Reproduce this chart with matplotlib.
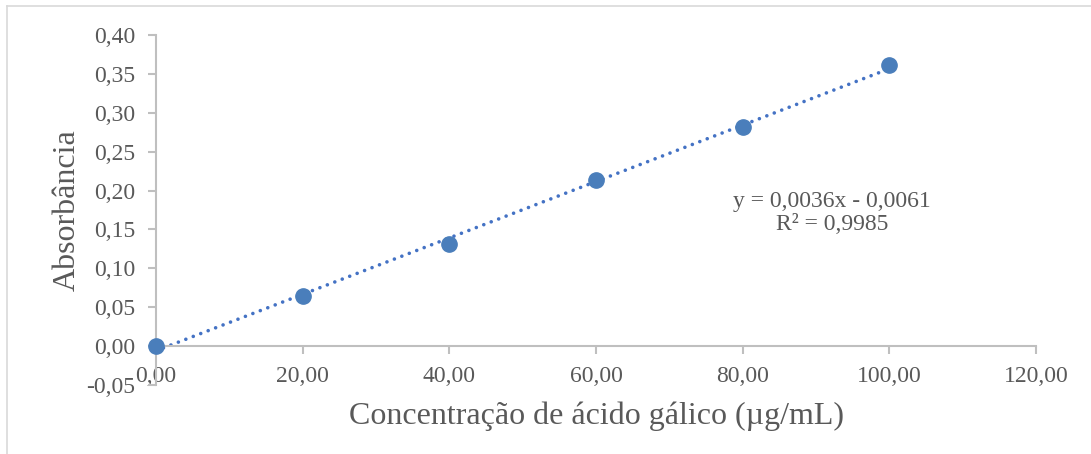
import numpy as np
import matplotlib.pyplot as plt
from matplotlib.lines import Line2D
from matplotlib.ticker import FuncFormatter

plt.rcParams['font.family'] = ['Liberation Serif', 'DejaVu Serif']

# dados da curva de calibração
concentracao = [0, 20, 40, 60, 80, 100]
absorbancia = [0.0, 0.065, 0.131, 0.213, 0.282, 0.361]
equacao = "y = 0,0036x - 0,0061"
r2 = "R² = 0,9985"
xticks = [0, 20, 40, 60, 80, 100, 120]
yticks = [-0.05, 0.0, 0.05, 0.10, 0.15, 0.20, 0.25, 0.30, 0.35, 0.40]

cor = '#4a7ebb'
cinza = '#bfbfbf'
texto = '#595959'

fig = plt.figure(figsize=(10.91, 4.54), dpi=100)
ax = fig.add_axes([0.143, 0.152, 0.8066, 0.771])

# borda do gráfico (só topo e esquerda aparecem)
fig.add_artist(Line2D([7/1091, 1], [1 - 6/454, 1 - 6/454], color='#d9d9d9', lw=1.2, transform=fig.transFigure))
fig.add_artist(Line2D([7/1091, 7/1091], [0, 1 - 6/454], color='#d9d9d9', lw=1.2, transform=fig.transFigure))

x = np.array(concentracao, dtype=float)
y = np.array(absorbancia)
a, b = np.polyfit(x, y, 1)
xl = np.linspace(0, 100, 50)
ax.plot(xl, a * xl + b, linestyle=(0, (0.01, 2.2)), color='#4472c4', lw=2.6,
        dash_capstyle='round', solid_capstyle='round', zorder=2)
ax.plot(x, y, 'o', ms=11, color=cor, mec=cor, zorder=3, clip_on=False)

ax.set_xlim(0, 120)
ax.set_ylim(-0.05, 0.40)
ax.set_xticks(xticks)
ax.set_yticks(yticks)
fmt = FuncFormatter(lambda v, p: f"{v:.2f}".replace('.', ','))
ax.xaxis.set_major_formatter(fmt)
ax.yaxis.set_major_formatter(fmt)

ax.spines['top'].set_visible(False)
ax.spines['right'].set_visible(False)
ax.spines['bottom'].set_position(('data', 0))
for s in ['left', 'bottom']:
    ax.spines[s].set_color(cinza)
    ax.spines[s].set_linewidth(1.5)
ax.tick_params(axis='both', colors=cinza, labelcolor=texto, labelsize=17, width=1.5, length=6)
ax.tick_params(axis='x', pad=8)
ax.tick_params(axis='y', pad=9)

ax.set_xlabel("Concentração de ácido gálico (µg/mL)", fontsize=23, color=texto, labelpad=11)
ax.set_ylabel("Absorbância", fontsize=23, color=texto, labelpad=3)

ax.text(92.2, 0.171, equacao + "\n" + r2, fontsize=17, color=texto, ha='center', va='center', linespacing=1.15)

fig.savefig('out.png', dpi=100)
